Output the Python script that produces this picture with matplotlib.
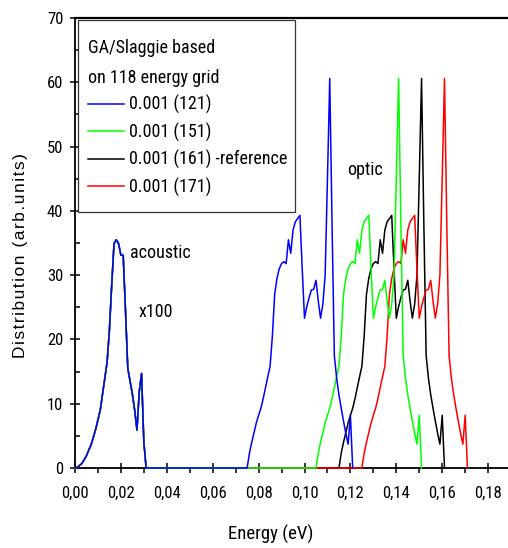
import numpy as np
import matplotlib
matplotlib.use('Agg')
import matplotlib.pyplot as plt
from matplotlib.ticker import MultipleLocator, FuncFormatter
from matplotlib.patches import Rectangle

plt.rcParams['font.family'] = ['Roboto Condensed', 'Liberation Sans', 'DejaVu Sans']

# acoustic part (x100), identical for all grids, 0.001 eV steps from 0
ACOUSTIC = [0, 0.1, 0.4, 0.7, 1.3, 1.9, 2.8, 3.6, 4.8, 6.0, 7.5, 9.0, 11.5, 14.0,
            16.5, 21.5, 28.5, 34.9, 35.5, 34.9, 33.1, 33.1, 24.5, 15.5, 13.5, 11.5,
            9.0, 5.9, 11.9, 14.7, 4.0, 0]

# optic band, 0.001 eV steps from the band start
OPTIC = [0, 2.3, 4.0, 5.5, 7.0, 8.2, 9.3, 10.8, 12.5, 14.2, 15.8, 20.5, 27.0, 29.5,
         31.0, 31.8, 32.1, 31.8, 35.5, 33.4, 37.0, 38.3, 38.8, 39.3, 31.0, 23.3, 25.1,
         26.5, 27.7, 27.8, 29.2, 26.0, 23.3, 25.5, 30.0, 45.0, 60.6, 38.0, 17.5, 14.0,
         11.4, 9.3, 7.3, 5.4, 3.7, 8.2, 0]

LABELS = ['0.001 (121)', '0.001 (151)', '0.001 (161) -reference', '0.001 (171)']
COLORS = ['#0000ff', '#00ff00', '#000000', '#ff0000']
OPTIC_START = [0.075, 0.105, 0.115, 0.125]
ZORDER = [5, 4, 2, 3]

STEP = 0.001

W, H = 508, 548
fig = plt.figure(figsize=(W / 100, H / 100), dpi=100)
ax = fig.add_axes([75 / W, 80 / H, (W - 75) / W, 450 / H])

ac_e = np.arange(len(ACOUSTIC)) * STEP
handles = []
for lab, col, start, z in zip(LABELS, COLORS, OPTIC_START, ZORDER):
    op_e = start + np.arange(len(OPTIC)) * STEP
    e = np.concatenate([ac_e, op_e])
    d = np.concatenate([ACOUSTIC, OPTIC])
    ln, = ax.plot(e, d, color=col, lw=1.1, zorder=z, label=lab, clip_on=False)
    handles.append(ln)

ax.set_xlim(0, (W - 75) / 2295)
ax.set_ylim(0, 70)

ax.spines['right'].set_visible(False)
for s in ['left', 'bottom']:
    ax.spines[s].set_linewidth(1.3)
    ax.spines[s].set_zorder(1)
ax.spines['top'].set_linewidth(1.6)

ax.xaxis.set_major_locator(MultipleLocator(0.02))
ax.xaxis.set_minor_locator(MultipleLocator(0.01))
ax.yaxis.set_major_locator(MultipleLocator(10))
ax.yaxis.set_minor_locator(MultipleLocator(5))
ax.xaxis.set_major_formatter(FuncFormatter(lambda v, p: f'{v:.2f}'.replace('.', ',')))
ax.tick_params(axis='x', which='major', direction='inout', length=7, width=1.1,
               pad=9, labelsize=12, top=False)
ax.tick_params(axis='x', which='minor', direction='out', length=3.5, width=1.1, top=False)
ax.tick_params(axis='y', which='major', direction='inout', length=7, width=1.1,
               pad=5, labelsize=12, right=False)
ax.tick_params(axis='y', which='minor', direction='in', length=3.5, width=1.1, right=False)

fig.text(271 / W, 1 - 534 / H, 'Energy (eV)', ha='center', va='center', fontsize=13.5)
ylab = '\u200a'.join('Distribution (arb.units)')
fig.text(21 / W, 1 - 256 / H, ylab, ha='center', va='center', rotation=90,
         fontsize=12.5, family=['Liberation Sans', 'DejaVu Sans'])

ax.text(0.024, 33.4, 'acoustic', fontsize=13, va='center', ha='left')
ax.text(0.0279, 24.3, 'x100', fontsize=13, va='center', ha='left')
ax.text(0.1185, 46.3, 'optic', fontsize=13, va='center', ha='left')

# legend frame and contents
ax.add_patch(Rectangle((78 / W, 1 - 212 / H), 217 / W, 192 / H,
                       transform=fig.transFigure, fill=True, facecolor='white',
                       edgecolor='#333333', lw=0.9, zorder=6, clip_on=False))
leg = ax.legend(handles=handles, title='GA/Slaggie based\non 118 energy grid',
                loc='upper left', bbox_to_anchor=(88 / W, 1 - 39 / H),
                bbox_transform=fig.transFigure, frameon=False, fontsize=13,
                title_fontsize=13, alignment='left', borderpad=0, borderaxespad=0,
                handlelength=2.0, handletextpad=0.28, labelspacing=0.46)
leg.get_title().set_linespacing(1.85)
leg.set_zorder(7)

fig.savefig('out.png', dpi=100)
